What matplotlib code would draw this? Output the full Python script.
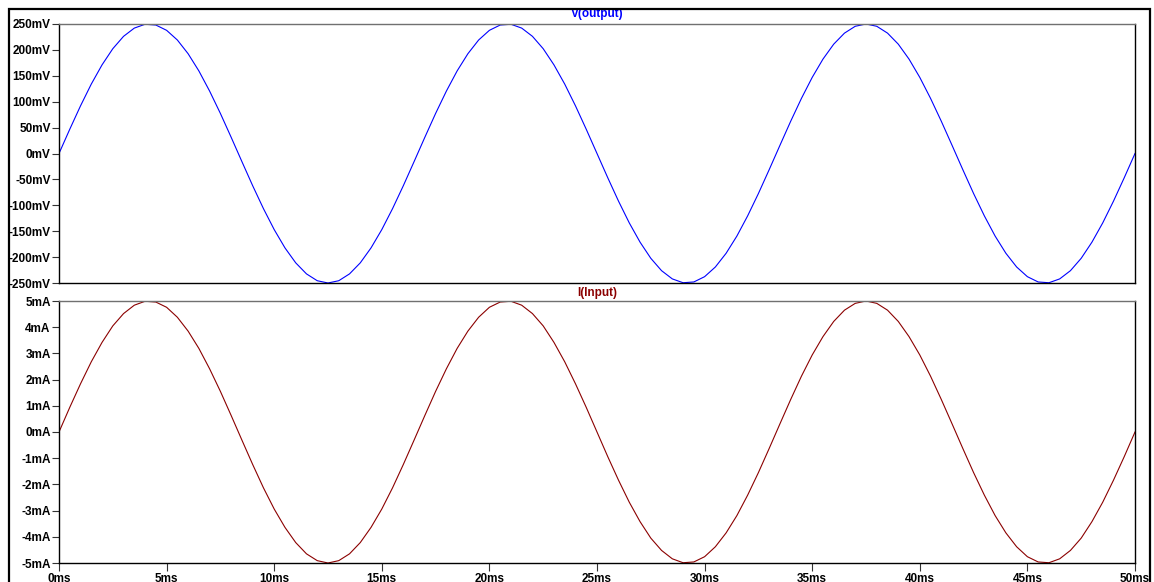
import numpy as np
import matplotlib
matplotlib.use("Agg")
import matplotlib.pyplot as plt
from matplotlib.patches import Rectangle

t_start_ms = 0.0
t_end_ms = 50.0

v_output_mV = [
    0, 46.8, 92.0, 134.0, 171.1, 202.3, 226.2, 242.1, 249.5, 248.0,
    237.8, 219.1, 192.6, 159.4, 120.4, 77.3, 31.3, -15.7, -62.2, -106.4,
    -146.9, -182.2, -211.1, -232.4, -245.6, -250.0, -245.6, -232.4, -211.1, -182.2,
    -146.9, -106.4, -62.2, -15.7, 31.3, 77.3, 120.4, 159.4, 192.6, 219.1,
    237.8, 248.0, 249.5, 242.1, 226.2, 202.3, 171.1, 134.0, 92.0, 46.8,
    0,
    -46.8, -92.0, -134.0, -171.1, -202.3, -226.2, -242.1, -249.5, -248.0,
    -237.8, -219.1, -192.6, -159.4, -120.4, -77.3, -31.3, 15.7, 62.2, 106.4,
    146.9, 182.2, 211.1, 232.4, 245.6, 250.0, 245.6, 232.4, 211.1, 182.2,
    146.9, 106.4, 62.2, 15.7, -31.3, -77.3, -120.4, -159.4, -192.6, -219.1,
    -237.8, -248.0, -249.5, -242.1, -226.2, -202.3, -171.1, -134.0, -92.0, -46.8,
    0,
]

i_input_mA = [
    0, 0.94, 1.84, 2.68, 3.42, 4.05, 4.52, 4.84, 4.99, 4.96,
    4.76, 4.38, 3.85, 3.19, 2.41, 1.55, 0.63, -0.31, -1.24, -2.13,
    -2.94, -3.64, -4.22, -4.65, -4.91, -5.00, -4.91, -4.65, -4.22, -3.64,
    -2.94, -2.13, -1.24, -0.31, 0.63, 1.55, 2.41, 3.19, 3.85, 4.38,
    4.76, 4.96, 4.99, 4.84, 4.52, 4.05, 3.42, 2.68, 1.84, 0.94,
    0,
    -0.94, -1.84, -2.68, -3.42, -4.05, -4.52, -4.84, -4.99, -4.96,
    -4.76, -4.38, -3.85, -3.19, -2.41, -1.55, -0.63, 0.31, 1.24, 2.13,
    2.94, 3.64, 4.22, 4.65, 4.91, 5.00, 4.91, 4.65, 4.22, 3.64,
    2.94, 2.13, 1.24, 0.31, -0.63, -1.55, -2.41, -3.19, -3.85, -4.38,
    -4.76, -4.96, -4.99, -4.84, -4.52, -4.05, -3.42, -2.68, -1.84, -0.94,
    0,
]

x_ticks_ms = [0, 5, 10, 15, 20, 25, 30, 35, 40, 45, 50]
v_ticks_mV = [-250, -200, -150, -100, -50, 0, 50, 100, 150, 200, 250]
i_ticks_mA = [-5, -4, -3, -2, -1, 0, 1, 2, 3, 4, 5]
top_title = "V(output)"
bottom_title = "I(Input)"

t_ms = np.linspace(t_start_ms, t_end_ms, len(v_output_mV))

# ---- figure ----
W, H = 1154, 582
fig = plt.figure(figsize=(W / 100, H / 100), dpi=100)
plt.rcParams['font.family'] = ['Liberation Sans', 'DejaVu Sans']

def fx(px):
    return px / W

def fy(py):
    return 1 - py / H

left_px, right_px = 59, 1135
ax1 = fig.add_axes([fx(left_px), fy(283), fx(right_px - left_px), (283 - 24) / H])
ax2 = fig.add_axes([fx(left_px), fy(563), fx(right_px - left_px), (563 - 301) / H])

tick_font = dict(fontsize=8.5, fontweight='bold')

for ax in (ax1, ax2):
    ax.set_xlim(t_start_ms, t_end_ms)
    ax.set_xticks(x_ticks_ms)
    for s in ('left', 'right', 'bottom'):
        ax.spines[s].set_color('black')
        ax.spines[s].set_linewidth(1.0)
    ax.spines['top'].set_color('#707070')
    ax.spines['top'].set_linewidth(1.0)
    ax.tick_params(axis='both', direction='out', length=5, width=0.8,
                   color='#333333', pad=1)

ax1.plot(t_ms, v_output_mV, color='#0000ff', lw=0.8)
ax1.set_ylim(-250, 250)
ax1.set_yticks(v_ticks_mV)
ax1.set_yticklabels([f"{v}mV" for v in v_ticks_mV], **tick_font)
ax1.tick_params(axis='x', length=0, labelbottom=False)

ax2.plot(t_ms, i_input_mA, color='#8b0000', lw=0.8)
ax2.set_ylim(-5, 5)
ax2.set_yticks(i_ticks_mA)
ax2.set_yticklabels([f"{v}mA" for v in i_ticks_mA], **tick_font)
ax2.set_xticklabels([f"{v}ms" for v in x_ticks_ms], **tick_font)
ax2.tick_params(axis='x', length=6, pad=1)

cx = fx((left_px + right_px) / 2)
fig.text(cx, fy(14.5), top_title, color='#0000ff', fontsize=8.5,
         fontweight='bold', ha='center', va='center')
fig.text(cx, fy(293), bottom_title, color='#8b0000', fontsize=8.5,
         fontweight='bold', ha='center', va='center')

# outer pane frame
fig.patches.append(Rectangle((fx(9), fy(600)), fx(1150 - 9), (600 - 9) / H,
                             transform=fig.transFigure, fill=False,
                             edgecolor='black', lw=1.6, zorder=10))

fig.savefig("out.png", dpi=100, facecolor='white')
